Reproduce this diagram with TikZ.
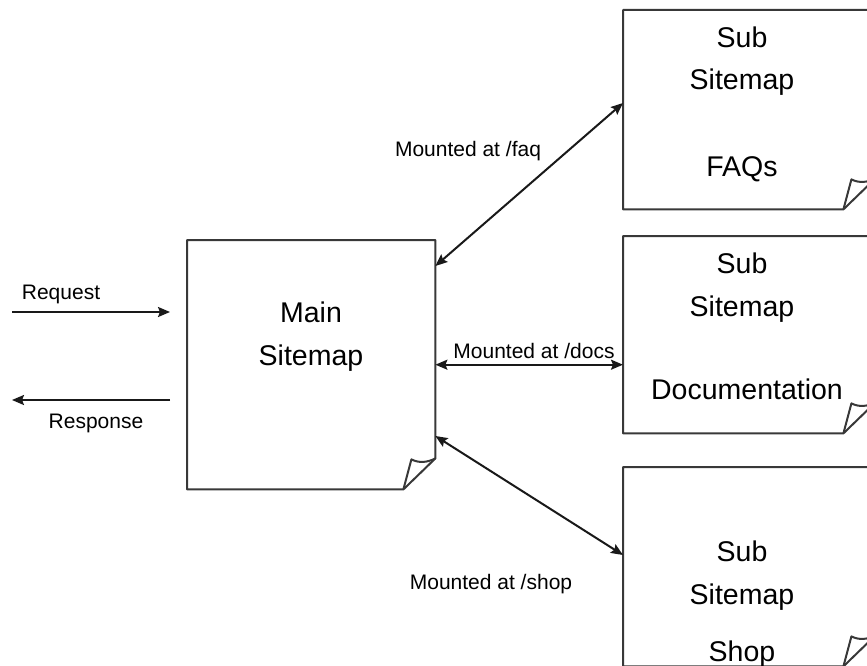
\documentclass[tikz,border=0pt]{standalone}
\usepackage{fontspec}
\setmainfont{Liberation Sans}
\usetikzlibrary{arrows.meta}

\begin{document}
\begin{tikzpicture}[x=1pt,y=-1pt,
  sheet/.style={draw=none,rectangle,inner sep=0pt,anchor=north west},
  outline/.style={line width=2pt,draw=black!78,line join=round},
  boxtext/.style={anchor=base,inner sep=0pt,font=\fontsize{28.5}{34}\selectfont},
  lbl/.style={anchor=base,inner sep=0pt,font=\fontsize{21}{25}\selectfont},
  conn/.style={line width=2pt,black!90},
  tip/.style={-{Stealth[length=12pt,width=10pt,inset=2pt]}},
  dtip/.style={{Stealth[length=12pt,width=10pt,inset=2pt]}-{Stealth[length=12pt,width=10pt,inset=2pt]}}
]
\useasboundingbox (0,0) rectangle (867,666);

% sheets
\node[sheet,minimum width=248pt,minimum height=249pt] (main) at (187,240) {};
\node[sheet,minimum width=252pt,minimum height=199pt] (faq)  at (623,10)  {};
\node[sheet,minimum width=252pt,minimum height=197pt] (docs) at (623,236) {};
\node[sheet,minimum width=252pt,minimum height=199pt] (shop) at (623,467) {};

% sheet outlines with a curled lower right corner
\foreach \s in {main,faq,docs,shop}{
  \draw[outline] (\s.north west) -- (\s.north east) -- ([yshift=31pt]\s.south east)
    -- ([xshift=-32pt]\s.south east) -- (\s.south west) -- cycle;
  \draw[outline] ([xshift=-32pt]\s.south east) -- ([xshift=-24pt,yshift=30pt]\s.south east)
    .. controls ([xshift=-16pt,yshift=26pt]\s.south east) and ([xshift=-8pt,yshift=27pt]\s.south east)
    .. ([yshift=31pt]\s.south east);
}

% sheet texts
\node[boxtext] (mainA) at (311,322) {Main};
\node[boxtext] (mainB) at (311,365) {Sitemap};
\node[boxtext] (faqA) at (742,48)  {Sub};
\node[boxtext] (faqB) at (742,90)  {Sitemap};
\node[boxtext] (faqC) at (742,176) {FAQs};
\node[boxtext] (docsA) at (742,273) {Sub};
\node[boxtext] (docsB) at (742,316) {Sitemap};
\node[boxtext] (docsC) at (747,399) {Documentation};
\node[boxtext] (shopA) at (742,561) {Sub};
\node[boxtext] (shopB) at (742,604) {Sitemap};
\node[boxtext] (shopC) at (742,661) {Shop};

% request / response
\coordinate (reqA) at (12,312);
\coordinate (reqB) at (170,312);
\coordinate (resA) at (170,400);
\coordinate (resB) at (12,400);
\draw[conn,tip] (reqA) -- (reqB);
\draw[conn,tip] (resA) -- (resB);
\node[lbl] (reqL) at (61,299) {Request};
\node[lbl] (resL) at (96,428) {Response};

% mount points
\coordinate (mFaq)  at (main.east |- 0,266);
\coordinate (sFaq)  at (faq.west |- 0,103);
\coordinate (mShop) at (main.east |- 0,436);
\coordinate (sShop) at (shop.west |- 0,555);
\draw[conn,dtip] (mFaq) -- (sFaq);
\draw[conn,dtip] (main.east) -- (docs.west |- main.east);
\draw[conn,dtip] (mShop) -- (sShop);
\node[lbl] (faqL)  at (468,157) {Mounted at /faq};
\node[lbl] (docsL) at (534,358) {Mounted at /docs};
\node[lbl] (shopL) at (491,589) {Mounted at /shop};
\end{tikzpicture}
\end{document}
